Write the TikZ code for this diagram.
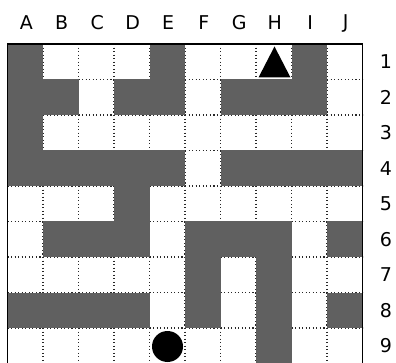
\documentclass[tikz,border=0pt]{standalone}
\usepackage{fontspec}
\setmainfont{DejaVu Sans}
\definecolor{wallgray}{RGB}{96,96,96}
\definecolor{dotgray}{RGB}{40,40,40}
\tikzset{
  gridline/.style={draw=dotgray, line width=1.1pt, dash pattern=on 1.1pt off 2.45pt},
  wall/.style={fill=wallgray},
  lbl/.style={font=\fontsize{19}{19}\selectfont, inner sep=0pt},
  border/.style={draw=black, line width=1.4pt}
}
\begin{document}
\begin{tikzpicture}[x=1pt,y=-1pt]
\useasboundingbox (0,0) rectangle (396,363);
\fill[white] (0,0) rectangle (396,363);
\def\xo{7.5}\def\yo{44}\def\s{35.5}
% dotted grid
\foreach \i in {1,...,9} \draw[gridline] (\xo+\i*\s,\yo) -- (\xo+\i*\s,\yo+9*\s);
\foreach \j in {1,...,8} \draw[gridline] (\xo,\yo+\j*\s) -- (\xo+10*\s,\yo+\j*\s);
% walls
\foreach \c/\r in {0/1,4/1,8/1,
  0/2,1/2,3/2,4/2,6/2,7/2,8/2,
  0/3,
  0/4,1/4,2/4,3/4,4/4,6/4,7/4,8/4,9/4,
  3/5,
  1/6,2/6,3/6,5/6,6/6,7/6,9/6,
  5/7,7/7,
  0/8,1/8,2/8,3/8,5/8,7/8,9/8,
  7/9}
  \fill[wall] (\xo+\c*\s,\yo+\r*\s-\s) rectangle (\xo+\c*\s+\s,\yo+\r*\s);
% border
\draw[border] (\xo,\yo+9*\s) -- (\xo,\yo) -- (\xo+10*\s,\yo) -- (\xo+10*\s,\yo+9*\s);
% column labels
\foreach \L [count=\k from 0] in {A,B,C,D,E,F,G,H,I,J}
  \node[lbl] (col\L) at (\xo+\k*\s+\s/2+1,23) {\L};
% row labels
\foreach \n in {1,...,9}
  \node[lbl] (row\n) at (386,\yo+\n*\s-\s/2) {\n};
% start and goal markers
\fill (274.5,46.5) -- (290.5,77.5) -- (258.5,77.5) -- cycle;
\fill (167.5,346.5) circle (15.5);
\end{tikzpicture}
\end{document}
